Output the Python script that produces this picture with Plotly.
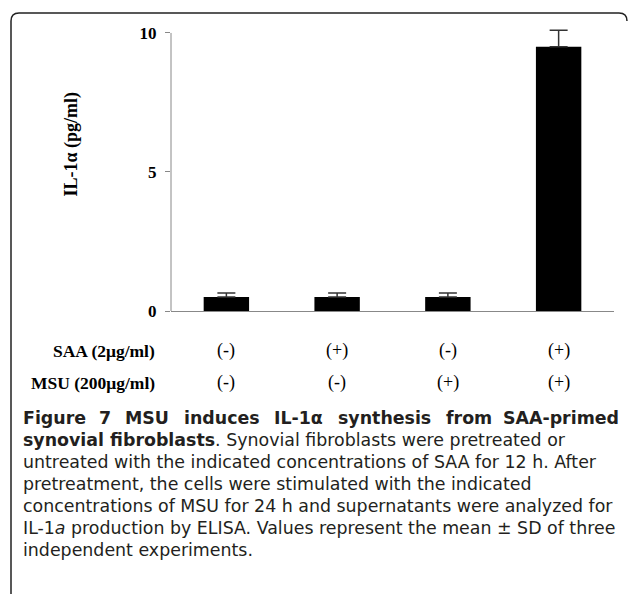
import plotly.graph_objects as go

# ---- data ----
positions = [0, 1, 2, 3]
values = [0.5, 0.5, 0.5, 9.5]
errors = [0.15, 0.15, 0.15, 0.6]
saa_labels = ["(-)", "(+)", "(-)", "(+)"]
msu_labels = ["(-)", "(-)", "(+)", "(+)"]
row_titles = ["SAA (2μg/ml)", "MSU (200μg/ml)"]
y_ticks = [0, 5, 10]
y_title = "IL-1α (pg/ml)"
caption_first_words = ["Figure", "7", "MSU", "induces", "IL-1α", "synthesis", "from", "SAA-primed"]
caption_first_x = [21, 97, 123, 182, 272, 336, 444, 621]
caption_lines = [
    "<b>synovial fibroblasts</b>. Synovial fibroblasts were pretreated or",
    "untreated with the indicated concentrations of SAA for 12 h. After",
    "pretreatment, the cells were stimulated with the indicated",
    "concentrations of MSU for 24 h and supernatants were analyzed for",
    "IL-1<i>a</i> production by ELISA. Values represent the mean ± SD of three",
    "independent experiments.",
]

W, H = 628, 594
L, R, T, B = 171, 14, 26, 283
PW, PH = W - L - R, H - T - B
Y_MAX = 10.25


def px(x):
    return (x - L) / PW


def py(y):
    return 1 - (y - T) / PH


SERIF = "Liberation Serif, Times New Roman, serif"
SANS = "DejaVu Sans, Open Sans, sans-serif"
CAP_SIZE = 17.4

fig = go.Figure()
fig.add_trace(go.Bar(
    x=positions, y=values, width=0.41,
    marker=dict(color="black", line=dict(width=0)),
    error_y=dict(type="data", array=errors, arrayminus=[0] * len(errors),
                 symmetric=False, color="#333333", thickness=1.5, width=9),
))

fig.update_layout(
    width=W, height=H,
    margin=dict(l=L, r=R, t=T, b=B),
    paper_bgcolor="white", plot_bgcolor="white",
    showlegend=False,
    xaxis=dict(range=[-0.5, 3.5], showline=True, linecolor="#888888", linewidth=1,
               showticklabels=False, showgrid=False, zeroline=False, ticks=""),
    yaxis=dict(range=[0, Y_MAX], tickvals=y_ticks, ticks="outside", ticklen=5,
               tickcolor="#888888", showline=False,
               showgrid=False, zeroline=False, ticklabelstandoff=5,
               tickfont=dict(family=SERIF, size=17, color="black", weight="bold")),
)

# y axis line from 0 to top tick only
fig.add_shape(type="line", xref="paper", yref="y", x0=0, x1=0, y0=0, y1=max(y_ticks),
              line=dict(color="#888888", width=1))

ann = []
ann.append(dict(text="<b>" + y_title + "</b>", xref="paper", yref="paper",
                x=px(71), y=py(144.5), textangle=-90, showarrow=False,
                font=dict(family=SERIF, size=18, color="black"),
                xanchor="center", yanchor="middle"))
row_y = [350.7, 382.7]
for title, labels, yy in zip(row_titles, [saa_labels, msu_labels], row_y):
    ann.append(dict(text="<b>" + title + "</b>", xref="paper", yref="paper",
                    x=px(157), y=py(yy), showarrow=False, xanchor="right", yanchor="middle",
                    font=dict(family=SERIF, size=17.5, color="black")))
    for p, lab in zip(positions, labels):
        ann.append(dict(text=lab, xref="x", yref="paper", x=p, y=py(yy), showarrow=False,
                        xanchor="center", yanchor="middle",
                        font=dict(family=SERIF, size=18, color="black")))

cap_y0, cap_dy = 418, 22
n_words = len(caption_first_words)
for k, (w, x) in enumerate(zip(caption_first_words, caption_first_x)):
    ann.append(dict(text="<b>" + w + "</b>", xref="paper", yref="paper", x=px(x), y=py(cap_y0),
                    showarrow=False, xanchor="right" if k == n_words - 1 else "left",
                    yanchor="middle",
                    font=dict(family=SANS, size=CAP_SIZE, color="#231f20")))
for i, line in enumerate(caption_lines):
    ann.append(dict(text=line, xref="paper", yref="paper", x=px(21), y=py(cap_y0 + (i + 1) * cap_dy),
                    showarrow=False, xanchor="left", yanchor="middle",
                    font=dict(family=SANS, size=CAP_SIZE, color="#231f20")))
fig.update_layout(annotations=ann)

# frame (rounded top-left corner, open at bottom)
path = (f"M {px(11)},{py(594)} L {px(11)},{py(21)} Q {px(11)},{py(13)} {px(19)},{py(13)} "
        f"L {px(619)},{py(13)} Q {px(627)},{py(13)} {px(627)},{py(21)}")
fig.add_shape(type="path", path=path, xref="paper", yref="paper",
              line=dict(color="#222222", width=1.5))

fig.write_html("out.html", config={"displayModeBar": False},
               post_script="document.body.style.margin='0';document.body.style.overflow='hidden';")
